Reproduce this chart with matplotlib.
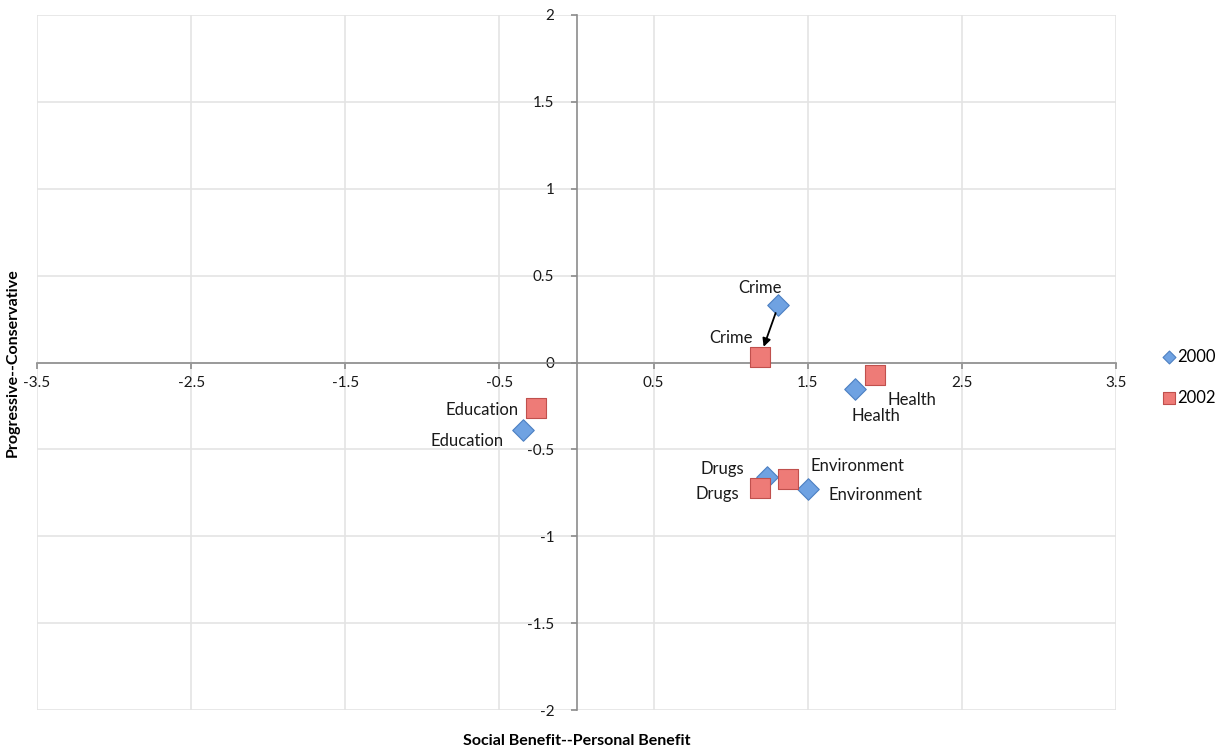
import numpy as np
import matplotlib.pyplot as plt

plt.rcParams['font.family'] = ['Lato', 'DejaVu Sans']

topics = ['Crime', 'Health', 'Education', 'Drugs', 'Environment']
x2000 = [1.31, 1.81, -0.35, 1.235, 1.505]
y2000 = [0.33, -0.15, -0.39, -0.66, -0.73]
x2002 = [1.19, 1.935, -0.26, 1.19, 1.375]
y2002 = [0.03, -0.07, -0.26, -0.725, -0.67]

# label offsets (points) for each topic
off2000 = [(-13, 12), (15, -20), (-40, -8), (-32, 6), (48, -4)]
off2002 = [(-21, 14), (27, -18), (-39, -2), (-31, -4), (50, 9)]

xticks = [-3.5, -2.5, -1.5, -0.5, 0.5, 1.5, 2.5, 3.5]
yticks = [-2, -1.5, -1, -0.5, 0, 0.5, 1, 1.5, 2]

fig = plt.figure(figsize=(12.28, 7.49), dpi=100)
ax = fig.add_axes([37/1228, 1-710/749, (1116-37)/1228, (710-15)/749])

ax.set_xlim(-3.5, 3.5)
ax.set_ylim(-2, 2)
ax.set_xticks(xticks)
ax.set_xticklabels(['-3.5', '-2.5', '-1.5', '-0.5', '0.5', '1.5', '2.5', '3.5'])
ax.set_yticks(yticks)
ax.set_yticklabels(['-2', '-1.5', '-1', '-0.5', '0', '0.5', '1', '1.5', '2'])
ax.grid(True, color='#e4e4e4', linewidth=1.2)
ax.set_axisbelow(True)

ax.spines['left'].set_position(('data', 0))
ax.spines['bottom'].set_position(('data', 0))
ax.spines['top'].set_visible(False)
ax.spines['right'].set_visible(False)
for s in ['left', 'bottom']:
    ax.spines[s].set_color('#8c8c8c')
    ax.spines[s].set_linewidth(1.2)
ax.tick_params(colors='#8c8c8c', length=4, width=1.2, labelcolor='#1a1a1a', labelsize=11)
ax.tick_params(axis='x', pad=6)
ax.tick_params(axis='y', pad=12)

l1 = ax.scatter(x2000, y2000, marker='D', s=120, color='#6fa2e2', edgecolor='#4d80c2',
                linewidth=0.8, zorder=4, label='2000')
l2 = ax.scatter(x2002, y2002, marker='s', s=200, color='#ee7b77', edgecolor='#c0504d',
                linewidth=0.8, zorder=4, label='2002')

for i, t in enumerate(topics):
    ax.annotate(t, (x2000[i], y2000[i]), xytext=off2000[i], textcoords='offset points',
                ha='center', va='center', fontsize=12, color='#1a1a1a', zorder=5)
    ax.annotate(t, (x2002[i], y2002[i]), xytext=off2002[i], textcoords='offset points',
                ha='center', va='center', fontsize=12, color='#1a1a1a', zorder=5)

# arrow showing crime moving from 2000 to 2002
ax.annotate('', xy=(x2002[0], y2002[0]), xytext=(x2000[0], y2000[0]),
            arrowprops=dict(arrowstyle='-|>', color='black', lw=1.3,
                            shrinkA=6, shrinkB=8, mutation_scale=12), zorder=6)

ax.set_xlabel('Social Benefit--Personal Benefit', fontsize=11.5, fontweight='bold')
ax.xaxis.set_label_coords(0.5, -0.035)
ax.set_ylabel('Progressive--Conservative', fontsize=11.5, fontweight='bold')
ax.yaxis.set_label_coords(-0.016, 0.5)

fig.legend(handles=[l1, l2], loc='center left', bbox_to_anchor=(1152/1228, 1-377/749),
           frameon=False, fontsize=12, labelspacing=1.5, handletextpad=0.0, borderpad=0,
           handlelength=1.0, scatterpoints=1, markerscale=0.6)

fig.savefig('out.png', dpi=100)
